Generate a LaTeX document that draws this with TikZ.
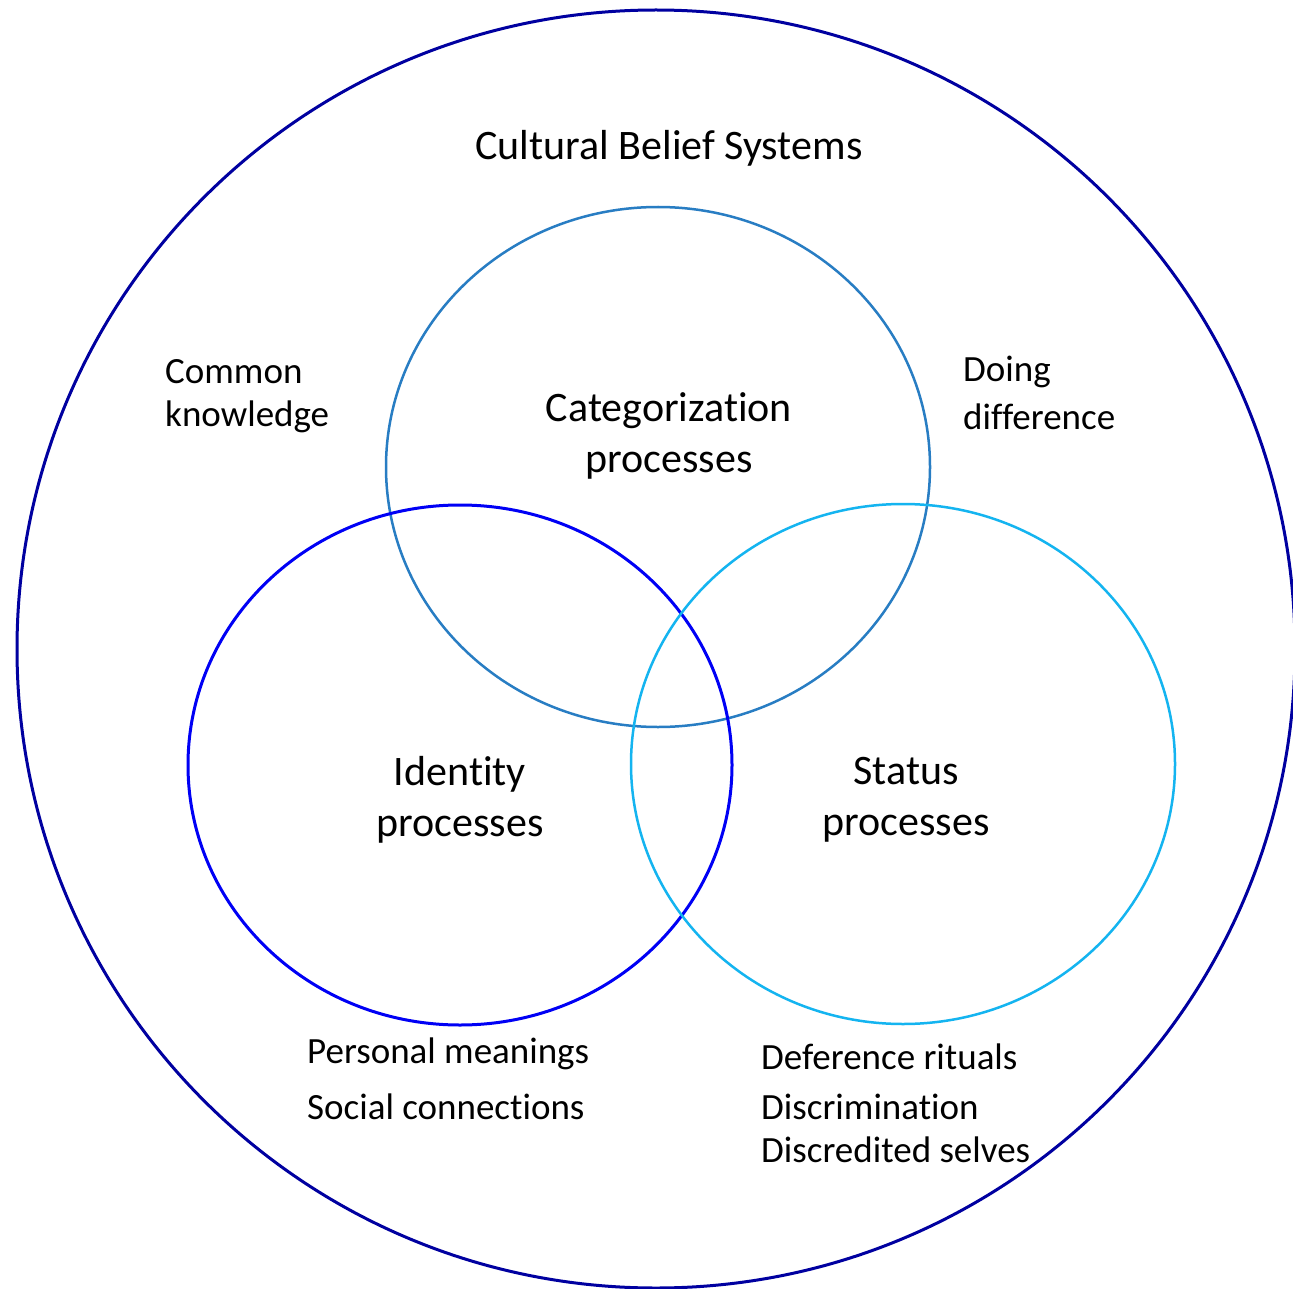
\documentclass[tikz,border=0pt]{standalone}
\usepackage{fontspec}
\setmainfont{Carlito}[Ligatures={NoCommon}]
\definecolor{outerc}{RGB}{0,0,160}
\definecolor{topc}{RGB}{40,125,195}
\definecolor{leftc}{RGB}{0,0,245}
\definecolor{rightc}{RGB}{20,180,240}
\tikzset{
  big/.style={font=\fontsize{42}{51}\selectfont, inner sep=0pt, align=center},
  small/.style={font=\fontsize{37}{45}\selectfont, inner sep=0pt, anchor=west},
}
\begin{document}
\begin{tikzpicture}[x=1pt,y=-1pt]
\useasboundingbox (0,0) rectangle (1293,1289);
\fill[white] (0,0) rectangle (1293,1289);
\draw[outerc, line width=3pt] (656,649) circle [radius=639];
\draw[topc, line width=2.5pt] (658,467) ellipse [x radius=272, y radius=260];
\draw[leftc, line width=3pt] (460,765) ellipse [x radius=272, y radius=260];
\draw[rightc, line width=2.5pt] (903,764) ellipse [x radius=272, y radius=260];

\node[big] (cbs) at (669,148) {Cultural Belief Systems};
\node[big] (cat) at (669,436) {Categorization\\processes};
\node[big] (idp) at (460,800) {Identity\\processes};
\node[big] (stp) at (906,800) {Status\\processes};

\node[small] (ck1) at (165,372) {Common};
\node[small] (ck2) at (165,417) {knowledge};
\node[small] (dd1) at (963,372) {Doing};
\node[small] (dd2) at (963,417) {difference};
\node[small] (pm) at (307,1054) {Personal meanings};
\node[small] (sc) at (307,1107) {Social connections};
\node[small] (dr) at (761,1057) {Deference rituals};
\node[small] (dis) at (761,1107) {Discrimination};
\node[small] (dsel) at (761,1150) {Discredited selves};
\end{tikzpicture}
\end{document}
